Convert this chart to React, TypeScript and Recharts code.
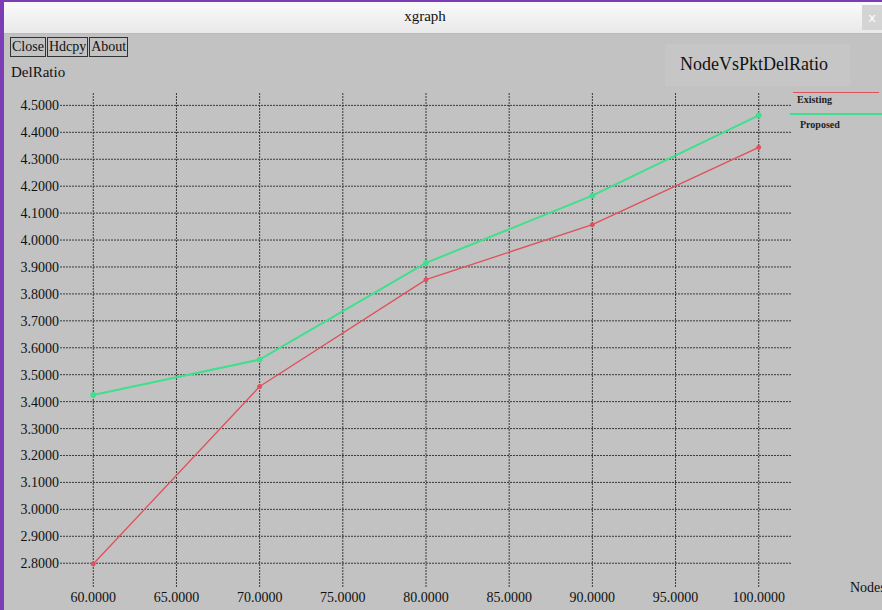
import React from 'react';
import { LineChart, Line, XAxis, YAxis, CartesianGrid, Legend } from 'recharts';

const nodes = [60, 70, 80, 90, 100];
const existing = [2.797, 3.456, 3.853, 4.057, 4.344];
const proposed = [3.425, 3.556, 3.915, 4.165, 4.463];
const xTicks = [60, 65, 70, 75, 80, 85, 90, 95, 100];
const yTicks = [2.8, 2.9, 3.0, 3.1, 3.2, 3.3, 3.4, 3.5, 3.6, 3.7, 3.8, 3.9, 4.0, 4.1, 4.2, 4.3, 4.4, 4.5];
const seriesNames = ['Existing', 'Proposed'];
const seriesColors = ['#e0505a', '#3ee08c'];
const buttons = ['Close', 'Hdcpy', 'About'];

const data = nodes.map((n, i) => ({ n, existing: existing[i], proposed: proposed[i] }));

const FONT = '"Liberation Serif", "DejaVu Serif", serif';

const LegendContent = () => (
  <div style={{ position: 'relative', width: 92, height: 50, fontFamily: FONT }}>
    <div style={{ position: 'absolute', left: 3, top: 4, width: 86, height: 1, background: seriesColors[0] }} />
    <div style={{ position: 'absolute', left: 7, top: 6, fontSize: 10, fontWeight: 'bold', color: '#222' }}>{seriesNames[0]}</div>
    <div style={{ position: 'absolute', left: 0, top: 25, width: 92, height: 2, background: seriesColors[1] }} />
    <div style={{ position: 'absolute', left: 10, top: 31, fontSize: 10, fontWeight: 'bold', color: '#222' }}>{seriesNames[1]}</div>
  </div>
);

const btn: React.CSSProperties = {
  height: 20,
  border: '1px solid #333',
  boxSizing: 'border-box',
  fontSize: 14,
  lineHeight: '18px',
  padding: '0 1px',
  color: '#111',
  fontFamily: FONT,
  whiteSpace: 'nowrap',
};

export default function App() {
  return (
    <div style={{ position: 'fixed', left: 0, top: 0, width: 882, height: 610, background: '#c2c2c2', overflow: 'hidden', fontFamily: FONT }}>
      {/* title bar */}
      <div style={{ position: 'absolute', left: 0, top: 0, width: 882, height: 34, background: 'linear-gradient(#fbfbfb, #e9e9e9)', borderBottom: '1px solid #bbb', boxSizing: 'border-box' }} />
      <div style={{ position: 'absolute', left: 0, top: 8, width: 850, textAlign: 'center', fontSize: 15, color: '#111' }}>xgraph</div>
      <div style={{ position: 'absolute', left: 862, top: 5, width: 20, height: 25, background: '#d4d4d4', color: '#fff', fontSize: 13, textAlign: 'center', lineHeight: '25px', fontFamily: '"DejaVu Sans", sans-serif' }}>x</div>
      <div style={{ position: 'absolute', left: 0, top: 0, width: 882, height: 2, background: '#7c3cb4' }} />
      <div style={{ position: 'absolute', left: 0, top: 0, width: 4, height: 610, background: '#7c3cb4', zIndex: 5 }} />

      {/* buttons */}
      <div style={{ position: 'absolute', left: 10, top: 37, display: 'flex', gap: 1 }}>
        {buttons.map((b) => (
          <div key={b} style={btn}>{b}</div>
        ))}
      </div>

      <div style={{ position: 'absolute', left: 11, top: 64, fontSize: 15, color: '#111' }}>DelRatio</div>
      <div style={{ position: 'absolute', left: 665, top: 44, width: 185, height: 42, background: '#c6c6c6' }} />
      <div style={{ position: 'absolute', left: 680, top: 54, fontSize: 18, color: '#111' }}>NodeVsPktDelRatio</div>
      <div style={{ position: 'absolute', left: 850, top: 580, fontSize: 14, color: '#111', whiteSpace: 'nowrap' }}>Nodes</div>

      <div style={{ position: 'absolute', left: 0, top: 0 }}>
        <LineChart width={882} height={610} data={data} margin={{ top: 93, right: 90, bottom: 0, left: 0 }}>
          <CartesianGrid stroke="#3a3a3a" strokeDasharray="2 1" strokeWidth={1} syncWithTicks />
          <XAxis
            dataKey="n"
            type="number"
            domain={[58, 102]}
            ticks={xTicks}
            height={22}
            axisLine={false}
            tickLine={false}
            tickSize={0}
            tickMargin={4}
            tickFormatter={(v: number) => v.toFixed(4)}
            tick={{ fill: '#111', fontSize: 14, fontFamily: FONT }}
            interval={0}
          />
          <YAxis
            type="number"
            domain={[2.708, 4.546]}
            ticks={yTicks}
            width={60}
            axisLine={false}
            tickLine={false}
            tickSize={0}
            tickMargin={1}
            tickFormatter={(v: number) => v.toFixed(4)}
            tick={{ fill: '#111', fontSize: 14, fontFamily: FONT }}
            interval={0}
            allowDataOverflow
          />
          <Legend
            layout="vertical"
            verticalAlign="middle"
            align="center"
            content={<LegendContent />}
            wrapperStyle={{ position: 'absolute', left: 790, top: 88, width: 92 }}
          />
          <Line
            type="linear"
            dataKey="existing"
            name={seriesNames[0]}
            stroke={seriesColors[0]}
            strokeWidth={1.3}
            dot={{ r: 2, fill: seriesColors[0], stroke: seriesColors[0], strokeWidth: 1 }}
            isAnimationActive={false}
          />
          <Line
            type="linear"
            dataKey="proposed"
            name={seriesNames[1]}
            stroke={seriesColors[1]}
            strokeWidth={2}
            dot={{ r: 2.5, fill: seriesColors[1], stroke: seriesColors[1], strokeWidth: 1 }}
            isAnimationActive={false}
          />
        </LineChart>
      </div>
    </div>
  );
}
